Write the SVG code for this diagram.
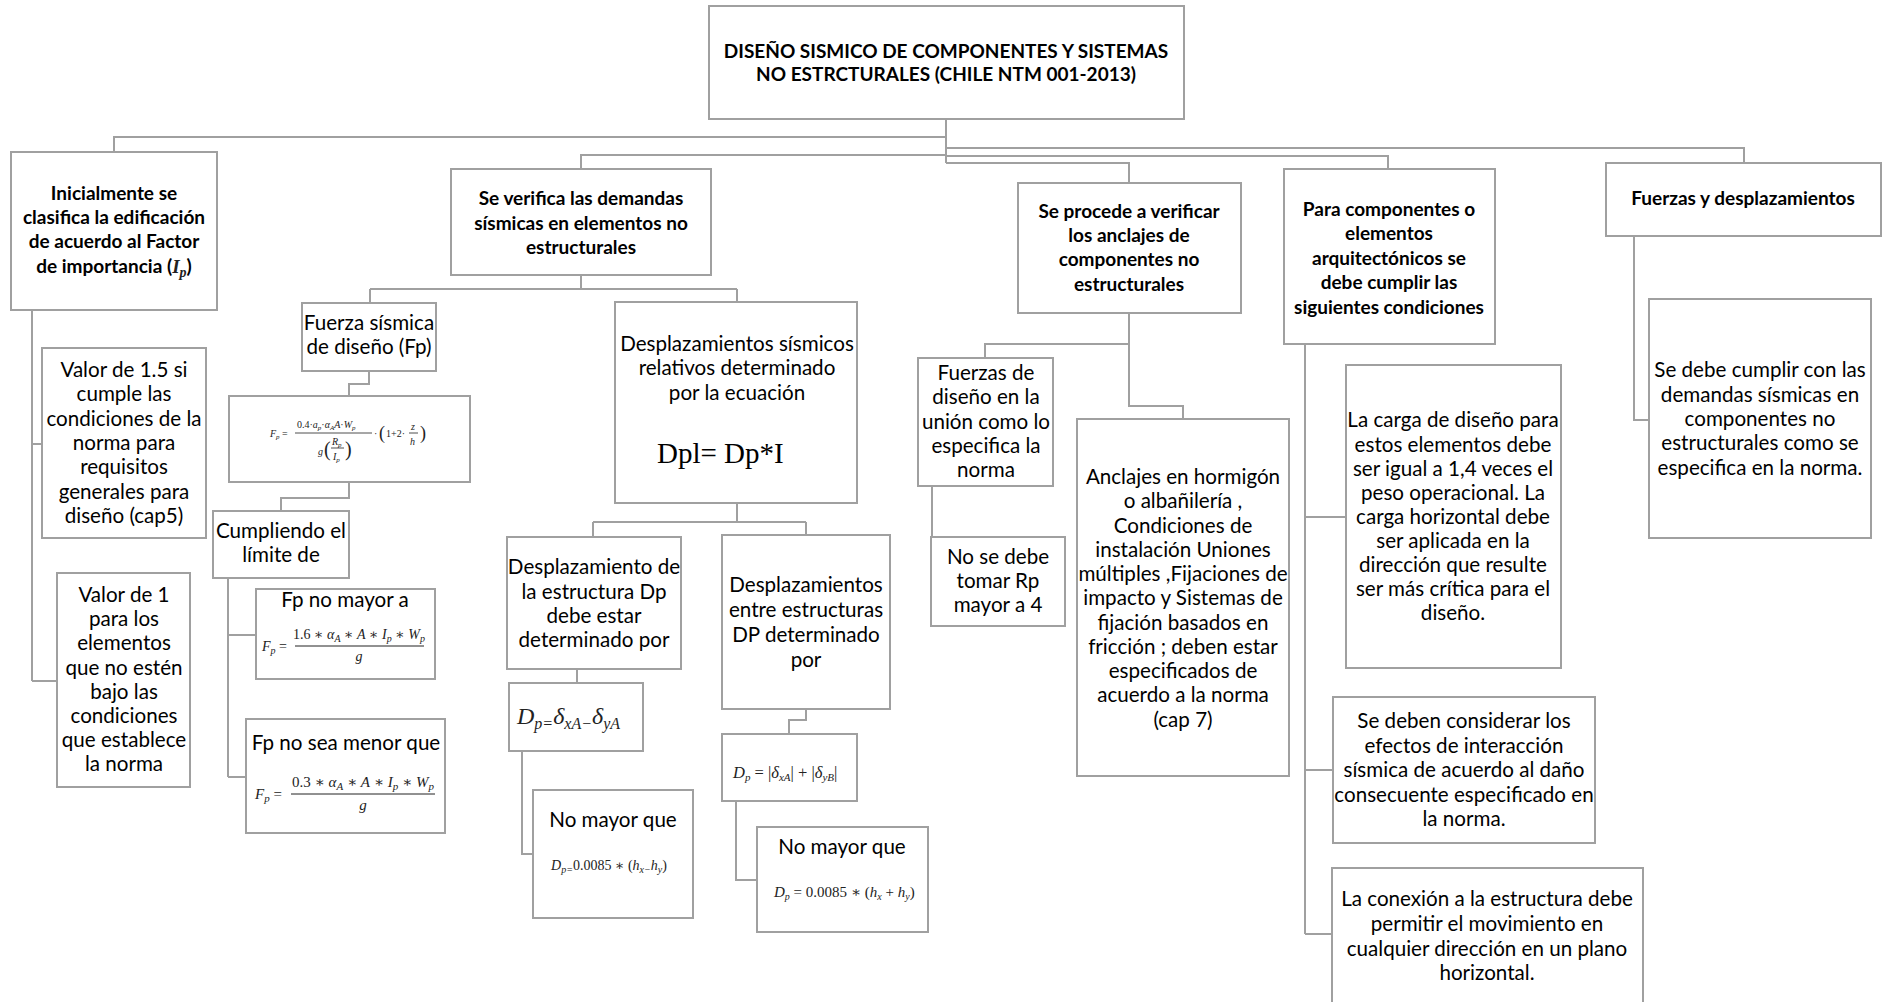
<svg xmlns="http://www.w3.org/2000/svg" width="1883" height="1002" viewBox="0 0 1883 1002">
<style>
.b{fill:#fff;stroke:#a0a0a0;stroke-width:2}
.c{fill:none;stroke:#a0a0a0;stroke-width:2}
.t{font-family:Lato,"Liberation Sans",sans-serif;font-size:20.6px;fill:#000;text-anchor:middle}
.tb{font-weight:bold;font-size:19px}
.m{font-family:"Liberation Serif","DejaVu Serif",serif;font-style:italic;fill:#222}
.mr{font-style:normal}
</style>
<rect width="1883" height="1002" fill="#fff"/>
<g id="connectors">
<path class="c" d="M946,119 V163 M946,137 H114 V152 M946,155 H581 V169 M946,148 H1744 V163 M946,156 H1388 V169 M946,163 H1129 V183"/>
<path class="c" d="M32,310 V681 M32,444 H42 M32,681 H57"/>
<path class="c" d="M581,275 V289 M370,289 H737 M370,289 V303 M737,289 V302"/>
<path class="c" d="M369,371 V384 H349 V396 M349,482 V498 H281 V511"/>
<path class="c" d="M228,578 V777 M228,635 H256 M228,777 H246"/>
<path class="c" d="M737,503 V522 M593,522 H806 M593,522 V537 M806,522 V535"/>
<path class="c" d="M577,669 V683 M522,751 V854 H533"/>
<path class="c" d="M806,709 V720 H789 V734 M736,801 V880 H757"/>
<path class="c" d="M1129,313 V406 H1183 V419 M1129,344 H985 V358 M932,486 V580"/>
<path class="c" d="M1305,344 V934 M1305,517 H1346 M1305,770 H1333 M1305,934 H1332"/>
<path class="c" d="M1634,236 V420 H1649"/>
</g>
<g id="n0">
<rect class="b" x="709" y="6" width="475" height="113"/>
<text class="t tb" x="946" y="58">DISEÑO SISMICO DE COMPONENTES Y SISTEMAS</text>
<text class="t tb" x="946" y="81">NO ESTRCTURALES (CHILE NTM 001-2013)</text>
</g>
<g id="n1">
<rect class="b" x="11" y="152" width="206" height="158"/>
<text class="t tb" x="114" y="200">Inicialmente se</text>
<text class="t tb" x="114" y="224">clasifica la edificación</text>
<text class="t tb" x="114" y="248">de acuerdo al Factor</text>
<text class="t tb" x="114" y="273">de importancia (<tspan class="m" font-weight="bold">I</tspan><tspan class="m" font-weight="bold" font-size="14" dy="4">p</tspan><tspan dy="-4">)</tspan></text>
</g>
<g id="n2">
<rect class="b" x="451" y="169" width="260" height="106"/>
<text class="t tb" x="581" y="205">Se verifica las demandas</text>
<text class="t tb" x="581" y="230">sísmicas en elementos no</text>
<text class="t tb" x="581" y="254">estructurales</text>
</g>
<g id="n3">
<rect class="b" x="1018" y="183" width="223" height="130"/>
<text class="t tb" x="1129" y="218">Se procede a verificar</text>
<text class="t tb" x="1129" y="242">los anclajes  de</text>
<text class="t tb" x="1129" y="266">componentes no</text>
<text class="t tb" x="1129" y="291">estructurales</text>
</g>
<g id="n4">
<rect class="b" x="1284" y="169" width="211" height="175"/>
<text class="t tb" x="1389" y="216">Para componentes o</text>
<text class="t tb" x="1389" y="240">elementos</text>
<text class="t tb" x="1389" y="265">arquitectónicos  se</text>
<text class="t tb" x="1389" y="289">debe cumplir las</text>
<text class="t tb" x="1389" y="314">siguientes condiciones</text>
</g>
<g id="n5">
<rect class="b" x="1606" y="163" width="275" height="73"/>
<text class="t tb" x="1743" y="205">Fuerzas y desplazamientos</text>
</g>
<g id="n6">
<rect class="b" x="42" y="348" width="164" height="190"/>
<text class="t" x="124" y="377">Valor de 1.5 si</text>
<text class="t" x="124" y="401">cumple las</text>
<text class="t" x="124" y="426">condiciones de la</text>
<text class="t" x="124" y="450">norma para</text>
<text class="t" x="124" y="474">requisitos</text>
<text class="t" x="124" y="499">generales para</text>
<text class="t" x="124" y="523">diseño (cap5)</text>
</g>
<g id="n7">
<rect class="b" x="57" y="573" width="133" height="214"/>
<text class="t" x="124" y="602">Valor de 1</text>
<text class="t" x="124" y="626">para los</text>
<text class="t" x="124" y="650">elementos</text>
<text class="t" x="124" y="675">que no estén</text>
<text class="t" x="124" y="699">bajo las</text>
<text class="t" x="124" y="723">condiciones</text>
<text class="t" x="124" y="747">que establece</text>
<text class="t" x="124" y="771">la norma</text>
</g>
<g id="n8">
<rect class="b" x="302" y="303" width="134" height="68"/>
<text class="t" x="369" y="330">Fuerza sísmica</text>
<text class="t" x="369" y="354">de diseño (Fp)</text>
</g>
<g id="n9">
<rect class="b" x="229" y="396" width="241" height="86"/>
<g class="m" font-size="10">
<text x="270" y="437">F<tspan font-size="7" dy="2">p</tspan><tspan class="mr" dy="-2"> =</tspan></text>
<text x="297" y="428"><tspan class="mr">0.4·</tspan>a<tspan font-size="7" dy="2">p</tspan><tspan class="mr" dy="-2">·</tspan>α<tspan font-size="7" dy="2">A</tspan><tspan dy="-2">A</tspan><tspan class="mr">·</tspan>W<tspan font-size="7" dy="2">p</tspan></text>
<line x1="295" y1="433" x2="372" y2="433" stroke="#222" stroke-width="0.8"/>
<text x="318" y="455">g</text>
<text x="324" y="456" class="mr" font-size="20">(</text>
<text x="332" y="445">R<tspan font-size="7" dy="2">p</tspan></text>
<line x1="331" y1="448" x2="344" y2="448" stroke="#222" stroke-width="0.8"/>
<text x="333" y="460">I<tspan font-size="7" dy="2">p</tspan></text>
<text x="345" y="456" class="mr" font-size="20">)</text>
<text x="374" y="437" class="mr">·</text>
<text x="379" y="439" class="mr" font-size="18">(</text>
<text x="386" y="437" class="mr">1+2·</text>
<text x="411" y="430">z</text>
<line x1="409" y1="433" x2="418" y2="433" stroke="#222" stroke-width="0.8"/>
<text x="410" y="445">h</text>
<text x="420" y="439" class="mr" font-size="18">)</text>
</g>
</g>
<g id="n10">
<rect class="b" x="213" y="511" width="136" height="67"/>
<text class="t" x="281" y="538">Cumpliendo el</text>
<text class="t" x="281" y="562">límite de</text>
</g>
<g id="n11">
<rect class="b" x="256" y="589" width="179" height="90"/>
<text class="t" x="345" y="607">Fp no mayor a</text>
<g class="m" font-size="14">
<text x="262" y="651">F<tspan font-size="10" dy="3">p</tspan><tspan class="mr" dy="-3"> =</tspan></text>
<text x="359" y="639" text-anchor="middle"><tspan class="mr">1.6 ∗ </tspan>α<tspan font-size="10" dy="3">A</tspan><tspan class="mr" dy="-3"> ∗ </tspan>A<tspan class="mr"> ∗ </tspan>I<tspan font-size="10" dy="3">p</tspan><tspan class="mr" dy="-3"> ∗ </tspan>W<tspan font-size="10" dy="3">p</tspan></text>
<line x1="295" y1="646" x2="424" y2="646" stroke="#222" stroke-width="1"/>
<text x="359" y="661" text-anchor="middle">g</text>
</g>
</g>
<g id="n12">
<rect class="b" x="246" y="719" width="199" height="114"/>
<text class="t" x="346" y="750">Fp no sea menor que</text>
<g class="m" font-size="15">
<text x="255" y="799">F<tspan font-size="11" dy="3">p</tspan><tspan class="mr" dy="-3"> =</tspan></text>
<text x="363" y="787" text-anchor="middle"><tspan class="mr">0.3 ∗ </tspan>α<tspan font-size="11" dy="3">A</tspan><tspan class="mr" dy="-3"> ∗ </tspan>A<tspan class="mr"> ∗ </tspan>I<tspan font-size="11" dy="3">p</tspan><tspan class="mr" dy="-3"> ∗ </tspan>W<tspan font-size="11" dy="3">p</tspan></text>
<line x1="291" y1="794" x2="435" y2="794" stroke="#222" stroke-width="1"/>
<text x="363" y="810" text-anchor="middle">g</text>
</g>
</g>
<g id="n13">
<rect class="b" x="615" y="302" width="242" height="201"/>
<text class="t" x="737" y="351">Desplazamientos sísmicos</text>
<text class="t" x="737" y="375">relativos  determinado</text>
<text class="t" x="737" y="400">por la ecuación</text>
<text x="657" y="463" font-family="'Liberation Serif',serif" font-size="29" fill="#000">Dpl= Dp*I</text>
</g>
<g id="n14">
<rect class="b" x="507" y="537" width="174" height="132"/>
<text class="t" x="594" y="574">Desplazamiento de</text>
<text class="t" x="594" y="599">la estructura Dp</text>
<text class="t" x="594" y="623">debe estar</text>
<text class="t" x="594" y="647">determinado por</text>
</g>
<g id="n15">
<rect class="b" x="722" y="535" width="168" height="174"/>
<text class="t" x="806" y="592">Desplazamientos</text>
<text class="t" x="806" y="617">entre estructuras</text>
<text class="t" x="806" y="642">DP determinado</text>
<text class="t" x="806" y="667">por</text>
</g>
<g id="n16">
<rect class="b" x="509" y="683" width="134" height="68"/>
<text x="517" y="724" class="m" font-size="24" fill="#000">D<tspan font-size="16" dy="5">p=</tspan><tspan dy="-5">δ</tspan><tspan font-size="16" dy="5">xA−</tspan><tspan dy="-5">δ</tspan><tspan font-size="16" dy="5">yA</tspan></text>
</g>
<g id="n17">
<rect class="b" x="533" y="790" width="160" height="128"/>
<text class="t" x="613" y="827">No mayor que</text>
<text x="551" y="870" class="m" font-size="14">D<tspan font-size="10" dy="3">p=</tspan><tspan class="mr" dy="-3">0.0085 ∗ (</tspan>h<tspan font-size="10" dy="3">x−</tspan><tspan dy="-3">h</tspan><tspan font-size="10" dy="3">y</tspan><tspan class="mr" dy="-3">)</tspan></text>
</g>
<g id="n18">
<rect class="b" x="722" y="734" width="135" height="67"/>
<text x="733" y="778" class="m" font-size="16.5">D<tspan font-size="11" dy="3">p</tspan><tspan class="mr" dy="-3"> = |</tspan>δ<tspan font-size="11" dy="3">xA</tspan><tspan class="mr" dy="-3">| + |</tspan>δ<tspan font-size="11" dy="3">yB</tspan><tspan class="mr" dy="-3">|</tspan></text>
</g>
<g id="n19">
<rect class="b" x="757" y="827" width="171" height="105"/>
<text class="t" x="842" y="854">No mayor que</text>
<text x="774" y="897" class="m" font-size="15">D<tspan font-size="10" dy="3">p</tspan><tspan class="mr" dy="-3"> = 0.0085 ∗ (</tspan>h<tspan font-size="10" dy="3">x</tspan><tspan class="mr" dy="-3"> + </tspan>h<tspan font-size="10" dy="3">y</tspan><tspan class="mr" dy="-3">)</tspan></text>
</g>
<g id="n20">
<rect class="b" x="918" y="358" width="135" height="128"/>
<text class="t" x="986" y="380">Fuerzas de</text>
<text class="t" x="986" y="404">diseño en la</text>
<text class="t" x="986" y="429">unión como lo</text>
<text class="t" x="986" y="453">especifica la</text>
<text class="t" x="986" y="477">norma</text>
</g>
<g id="n21">
<rect class="b" x="931" y="537" width="134" height="89"/>
<text class="t" x="998" y="564">No se debe</text>
<text class="t" x="998" y="588">tomar Rp</text>
<text class="t" x="998" y="612">mayor a 4</text>
</g>
<g id="n22">
<rect class="b" x="1077" y="419" width="212" height="357"/>
<text class="t" x="1183" y="484">Anclajes en hormigón</text>
<text class="t" x="1183" y="508">o albañilería ,</text>
<text class="t" x="1183" y="533">Condiciones de</text>
<text class="t" x="1183" y="557">instalación Uniones</text>
<text class="t" x="1183" y="581">múltiples ,Fijaciones de</text>
<text class="t" x="1183" y="605">impacto  y Sistemas de</text>
<text class="t" x="1183" y="630">fijación basados en</text>
<text class="t" x="1183" y="654">fricción ; deben estar</text>
<text class="t" x="1183" y="678">especificados de</text>
<text class="t" x="1183" y="702">acuerdo a la norma</text>
<text class="t" x="1183" y="727">(cap 7)</text>
</g>
<g id="n23">
<rect class="b" x="1346" y="365" width="215" height="303"/>
<text class="t" x="1453" y="427">La carga de diseño para</text>
<text class="t" x="1453" y="452">estos elementos debe</text>
<text class="t" x="1453" y="476">ser igual a 1,4 veces el</text>
<text class="t" x="1453" y="500">peso operacional. La</text>
<text class="t" x="1453" y="524">carga horizontal debe</text>
<text class="t" x="1453" y="548">ser aplicada en la</text>
<text class="t" x="1453" y="572">dirección que resulte</text>
<text class="t" x="1453" y="596">ser más crítica para el</text>
<text class="t" x="1453" y="620">diseño.</text>
</g>
<g id="n24">
<rect class="b" x="1333" y="697" width="262" height="146"/>
<text class="t" x="1464" y="728">Se deben considerar los</text>
<text class="t" x="1464" y="753">efectos de interacción</text>
<text class="t" x="1464" y="777">sísmica de acuerdo al daño</text>
<text class="t" x="1464" y="802">consecuente especificado en</text>
<text class="t" x="1464" y="826">la norma.</text>
</g>
<g id="n25">
<rect class="b" x="1332" y="868" width="311" height="150"/>
<text class="t" x="1487" y="906">La conexión a la estructura debe</text>
<text class="t" x="1487" y="931">permitir el movimiento en</text>
<text class="t" x="1487" y="956">cualquier dirección en un plano</text>
<text class="t" x="1487" y="980">horizontal.</text>
</g>
<g id="n26">
<rect class="b" x="1649" y="299" width="222" height="239"/>
<text class="t" x="1760" y="377">Se debe cumplir con las</text>
<text class="t" x="1760" y="402">demandas sísmicas en</text>
<text class="t" x="1760" y="426">componentes no</text>
<text class="t" x="1760" y="450">estructurales como se</text>
<text class="t" x="1760" y="475">especifica en la norma.</text>
</g>
</svg>
